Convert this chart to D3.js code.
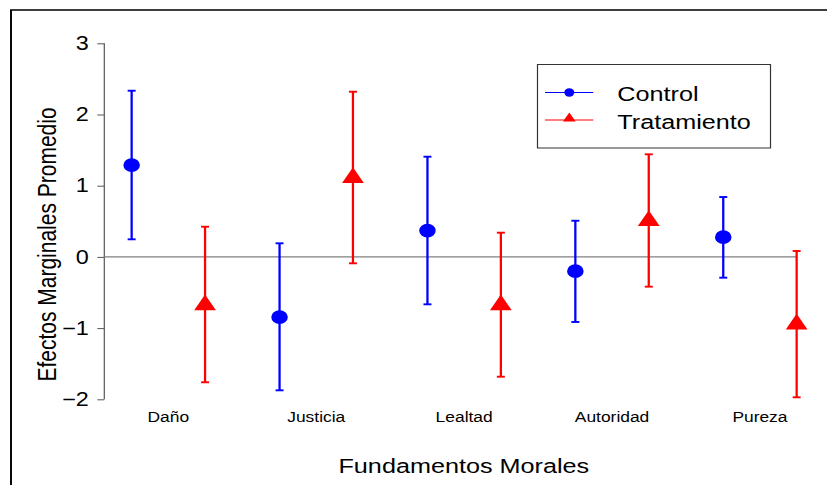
<!DOCTYPE html>
<html>
<head>
<meta charset="utf-8">
<script src="https://cdn.jsdelivr.net/npm/d3@7"></script>
<style>
  html, body { margin: 0; padding: 0; background: #fff; }
  svg { display: block; }
  text { font-family: "Liberation Sans", Arial, sans-serif; fill: #000; }
</style>
</head>
<body>
<script>
// ---- data ----
const categories = ["Daño", "Justicia", "Lealtad", "Autoridad", "Pureza"];
const groups = ["Control", "Tratamiento"];
const controlEst = [1.29, -0.845, 0.37, -0.20, 0.277];
const controlLo  = [0.247, -1.874, -0.666, -0.914, -0.292];
const controlHi  = [2.334, 0.191, 1.407, 0.508, 0.841];
const treatEst   = [-0.675, 1.113, -0.675, 0.509, -0.946];
const treatLo    = [-1.761, -0.09, -1.683, -0.418, -1.972];
const treatHi    = [0.424, 2.32, 0.34, 1.441, 0.083];
const yTicks = [-2, -1, 0, 1, 2, 3];
const yTitle = "Efectos Marginales Promedio";
const xTitle = "Fundamentos Morales";

// ---- layout (stretched horizontally like the original raster) ----
const W = 827, H = 485, SX = 1.2;
const VW = W / SX;
const svg = d3.select("body").append("svg")
  .attr("width", W).attr("height", H)
  .attr("viewBox", `0 0 ${VW} ${H}`)
  .attr("preserveAspectRatio", "none");

// outer frame (only top & left visible)
svg.append("path")
  .attr("d", `M${11/SX},${H + 10} V10 H${VW + 10}`)
  .attr("fill", "none").attr("stroke", "#000").attr("stroke-width", 1.6);

const axisX = 104.3 / SX;
const y = d3.scaleLinear().domain([-2, 3]).range([399.3, 43.3]);
const x = d3.scalePoint().domain(categories).range([168.35 / SX, (168.35 + 4 * 147.9) / SX]);
const xg = d3.scalePoint().domain(groups).range([-36.7 / SX, 36.7 / SX]);

// y axis
const yAxis = d3.axisLeft(y).tickValues(yTicks).tickSize(7 / SX).tickPadding(8.5 / SX)
  .tickFormat(d => d < 0 ? "\u2212" + Math.abs(d) : String(d));
const ga = svg.append("g").attr("transform", `translate(${axisX},0)`).call(yAxis);
ga.select(".domain").attr("stroke", "#555").attr("stroke-width", 1)
  .attr("d", `M0,${y(3)}V${y(-2)}`);
ga.selectAll(".tick line").attr("stroke", "#555").attr("stroke-width", 1);
ga.selectAll(".tick text").attr("font-size", 19.5).attr("fill", "#000")
  .attr("font-family", "Liberation Sans, Arial, sans-serif");

// zero reference line
svg.append("line")
  .attr("x1", axisX).attr("x2", x(categories[categories.length - 1]) + xg("Tratamiento"))
  .attr("y1", y(0)).attr("y2", y(0))
  .attr("stroke", "#808080").attr("stroke-width", 1.3);

// category labels
svg.append("g").selectAll("text").data(categories).join("text")
  .attr("x", d => x(d)).attr("y", 421.7)
  .attr("text-anchor", "middle").attr("font-size", 14.5)
  .text(d => d);

// titles
svg.append("text").attr("x", 463.8 / SX).attr("y", 473.3)
  .attr("text-anchor", "middle").attr("font-size", 21).text(xTitle);
svg.append("text")
  .attr("transform", `translate(${56.5 / SX},244.5) rotate(-90)`)
  .attr("text-anchor", "middle").attr("font-size", 21).text(yTitle);

// series
const series = [
  { name: "Control", color: "#0000ff", est: controlEst, lo: controlLo, hi: controlHi, sym: d3.symbolCircle, size: 150 },
  { name: "Tratamiento", color: "#ff0000", est: treatEst, lo: treatLo, hi: treatHi, sym: d3.symbolTriangle, size: 142 }
];
const capHalf = 4 / SX;
series.forEach(s => {
  const g = svg.append("g");
  const rows = categories.map((c, i) => ({ c, est: s.est[i], lo: s.lo[i], hi: s.hi[i], cx: x(c) + xg(s.name) }));
  g.selectAll("line.v").data(rows).join("line").attr("class", "v")
    .attr("x1", d => d.cx).attr("x2", d => d.cx)
    .attr("y1", d => y(d.lo)).attr("y2", d => y(d.hi))
    .attr("stroke", s.color).attr("stroke-width", 1.9);
  ["lo", "hi"].forEach(k => {
    g.selectAll("line." + k).data(rows).join("line").attr("class", k)
      .attr("x1", d => d.cx - capHalf).attr("x2", d => d.cx + capHalf)
      .attr("y1", d => y(d[k])).attr("y2", d => y(d[k]))
      .attr("stroke", s.color).attr("stroke-width", 1.9);
  });
  g.selectAll("path").data(rows).join("path")
    .attr("transform", d => `translate(${d.cx},${y(d.est)})`)
    .attr("d", d3.symbol().type(s.sym).size(s.size)())
    .attr("fill", s.color);
});

// legend
const lg = svg.append("g");
lg.append("rect")
  .attr("x", 537.5 / SX).attr("y", 64.5)
  .attr("width", (770.5 - 537.5) / SX).attr("height", 148 - 64.5)
  .attr("fill", "#fff").attr("stroke", "#333").attr("stroke-width", 1);
const legY = [92.5, 120];
const legBase = [100.7, 129];
series.forEach((s, i) => {
  lg.append("line").attr("x1", 545 / SX).attr("x2", 593.3 / SX)
    .attr("y1", legY[i]).attr("y2", legY[i]).attr("stroke", s.color).attr("stroke-width", 1);
  lg.append("path").attr("transform", `translate(${569.3 / SX},${legY[i] - (i ? 1.5 : 0)})`)
    .attr("d", d3.symbol().type(s.sym).size(i ? 48 : 55)()).attr("fill", s.color);
  lg.append("text").attr("x", 617.3 / SX).attr("y", legBase[i])
    .attr("font-size", 21).text(s.name);
});
</script>
</body>
</html>
